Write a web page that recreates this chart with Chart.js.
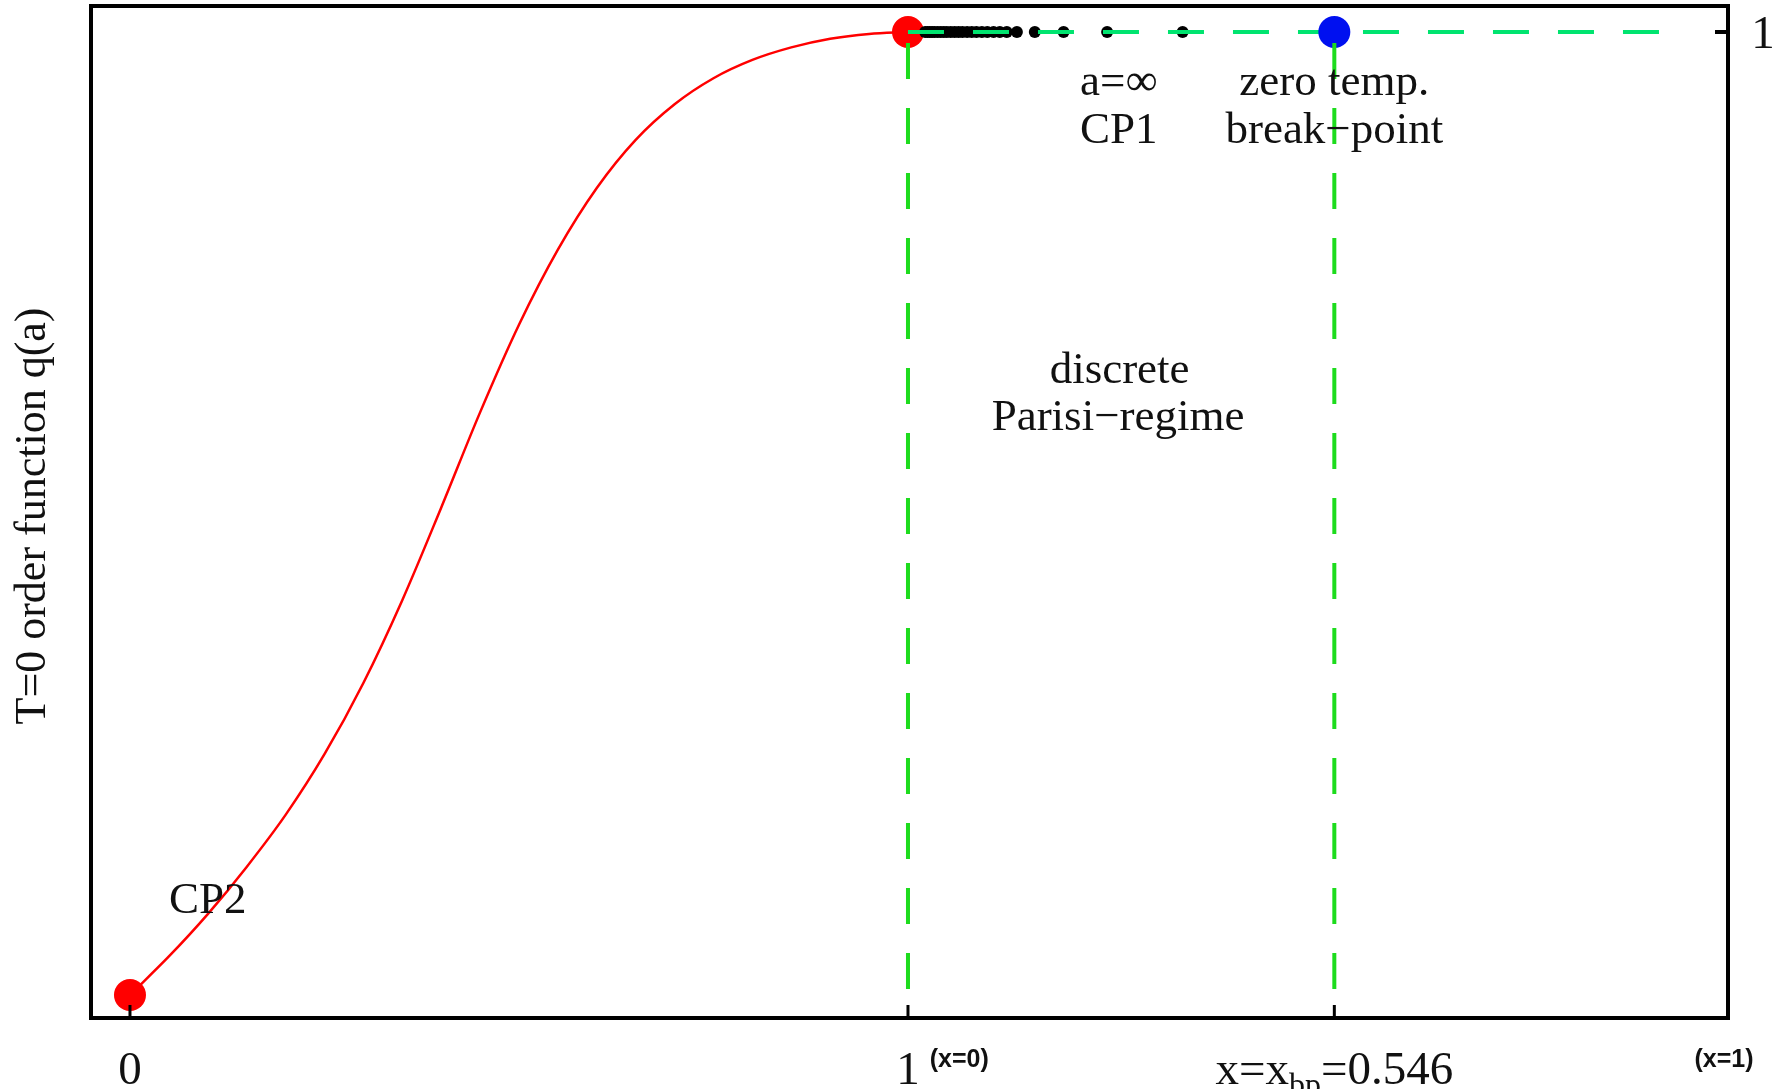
<!DOCTYPE html>
<html>
<head>
<meta charset="utf-8">
<script src="https://cdn.jsdelivr.net/npm/chart.js@4/dist/chart.umd.min.js"></script>
<style>
    body { margin: 0; background: #fff; }
    canvas { display: block; }
</style>
</head>
<body>
<canvas id="myChart" width="1782" height="1089"></canvas>
<script>
// order function q(a)
const curveA = [0, 0.05, 0.1, 0.15, 0.2, 0.25, 0.3, 0.35, 0.4, 0.45, 0.5, 0.55, 0.6, 0.65, 0.7, 0.75, 0.8, 0.85, 0.9, 0.95, 1];
const curveQ = [0, 0.040, 0.084, 0.133, 0.187, 0.250, 0.324, 0.410, 0.506, 0.605, 0.696, 0.774, 0.838, 0.888, 0.925, 0.952, 0.971, 0.984, 0.993, 0.998, 1];

// critical points CP2 (a=0) and CP1 (a=1)
const critA = [0, 1];
const critQ = [0, 1];

// discrete Parisi steps, all at q=1
const parisiA = [1.022, 1.025, 1.028, 1.031, 1.034, 1.038, 1.042, 1.046, 1.050, 1.055, 1.060, 1.065, 1.070, 1.076, 1.082, 1.088, 1.095, 1.102, 1.110, 1.118, 1.127, 1.140, 1.163, 1.200, 1.256, 1.353];

// zero temperature break-point
const xBp = 0.546;
const bpA = 1.548;
const plateauEndA = 1.972;

// axis ticks
const xTicks = [0, 1, bpA];
const xTickLabels = ['0', '1', 'x=x_bp=' + xBp];
const xTickNotes = ['', '(x=0)', ''];
const xEndNote = '(x=1)';
const yTicks = [1];
const yTickLabels = ['1'];
const yTitle = 'T=0 order function q(a)';

const notes = [
    { text: 'a=\u221e', a: 1.271, q: 0.935 },
    { text: 'CP1', a: 1.271, q: 0.885 },
    { text: 'zero temp.', a: bpA, q: 0.935 },
    { text: 'break\u2212point', a: bpA, q: 0.885 },
    { text: 'discrete', a: 1.272, q: 0.6355 },
    { text: 'Parisi\u2212regime', a: 1.270, q: 0.5867 },
    { text: 'CP2', a: 0.100, q: 0.0852 }
];

const serif = '"Liberation Serif", "DejaVu Serif", serif';
const sans = '"Liberation Sans", Arial, sans-serif';

function pts(xs, ys) {
    return xs.map((x, i) => ({ x: x, y: Array.isArray(ys) ? ys[i] : ys }));
}

const decorPlugin = {
    id: 'decor',
    afterDraw(chart) {
        const ctx = chart.ctx;
        const area = chart.chartArea;
        const xs = chart.scales.x;
        const ys = chart.scales.y;
        ctx.save();

        // frame
        ctx.strokeStyle = '#000';
        ctx.lineWidth = 4;
        ctx.strokeRect(area.left, area.top, area.right - area.left, area.bottom - area.top);

        // inward ticks
        ctx.lineWidth = 3;
        xTicks.forEach(v => {
            const px = xs.getPixelForValue(v);
            ctx.beginPath();
            ctx.moveTo(px, area.bottom);
            ctx.lineTo(px, area.bottom - 13);
            ctx.stroke();
        });
        ctx.lineWidth = 4;
        yTicks.forEach(v => {
            const py = ys.getPixelForValue(v);
            ctx.beginPath();
            ctx.moveTo(area.right, py);
            ctx.lineTo(area.right - 13, py);
            ctx.stroke();
        });

        ctx.fillStyle = '#111';
        ctx.textBaseline = 'alphabetic';

        // x tick labels, "_xx" becomes a subscript
        const base = area.bottom + 66;
        xTicks.forEach((v, i) => {
            const px = xs.getPixelForValue(v);
            const parts = xTickLabels[i].split(/_(\w+)/);
            let total = 0;
            parts.forEach((p, j) => {
                ctx.font = (j % 2 ? '32px ' : '47px ') + serif;
                total += ctx.measureText(p).width;
            });
            let cx = px - total / 2;
            ctx.textAlign = 'left';
            parts.forEach((p, j) => {
                ctx.font = (j % 2 ? '32px ' : '47px ') + serif;
                ctx.fillText(p, cx, j % 2 ? base + 11 : base);
                cx += ctx.measureText(p).width;
            });
            if (xTickNotes[i]) {
                ctx.font = 'bold 25px ' + sans;
                ctx.fillText(xTickNotes[i], cx + 10, area.bottom + 49);
            }
        });
        ctx.font = 'bold 25px ' + sans;
        ctx.textAlign = 'center';
        ctx.fillText(xEndNote, area.right - 4, area.bottom + 49);

        // y tick labels on the right
        ctx.font = '47px ' + serif;
        yTicks.forEach((v, i) => {
            ctx.fillText(yTickLabels[i], area.right + 35, ys.getPixelForValue(v) + 16);
        });

        // annotations
        ctx.font = '45px ' + serif;
        notes.forEach(n => {
            ctx.fillText(n.text, xs.getPixelForValue(n.a), ys.getPixelForValue(n.q));
        });

        // y title
        ctx.translate(45, (area.top + area.bottom) / 2 + 4);
        ctx.rotate(-Math.PI / 2);
        ctx.font = '44px ' + serif;
        ctx.fillText(yTitle, 0, 0);
        ctx.restore();
    }
};

const ctx = document.getElementById('myChart').getContext('2d');
let chart = new Chart(ctx, {
    type: 'scatter',
    data: {
        datasets: [{
            // vertical line at CP1
            data: pts([1, 1], [1, 0]),
            showLine: true,
            borderColor: '#1ddc1d',
            borderWidth: 4,
            borderDash: [36, 29],
            borderDashOffset: 54,
            pointRadius: 0
        }, {
            // vertical line at the break-point
            data: pts([bpA, bpA], [1, 0]),
            showLine: true,
            borderColor: '#1ddc1d',
            borderWidth: 4,
            borderDash: [36, 29],
            borderDashOffset: 54,
            pointRadius: 0
        }, {
            data: pts([bpA], [1]),
            backgroundColor: '#0010f0',
            borderWidth: 0,
            pointRadius: 16
        }, {
            // q = 1 plateau
            data: pts([1, plateauEndA], 1),
            showLine: true,
            borderColor: '#00e46f',
            borderWidth: 4,
            borderDash: [36, 29],
            pointRadius: 0
        }, {
            data: pts(parisiA, 1),
            backgroundColor: '#000',
            borderWidth: 0,
            pointRadius: 6
        }, {
            data: pts(critA, critQ),
            backgroundColor: '#ff0000',
            borderWidth: 0,
            pointRadius: 16
        }, {
            data: pts(curveA, curveQ),
            showLine: true,
            borderColor: '#ff0000',
            borderWidth: 2.5,
            cubicInterpolationMode: 'monotone',
            pointRadius: 0
        }]
    },
    options: {
        responsive: false,
        animation: false,
        clip: false,
        layout: { autoPadding: false, padding: { left: 91, right: 54, top: 6, bottom: 71 } },
        plugins: { legend: { display: false }, tooltip: { enabled: false } },
        scales: {
            x: { type: 'linear', min: -0.0501, max: 2.054, display: false },
            y: { type: 'linear', min: -0.0239, max: 1.027, display: false }
        }
    },
    plugins: [decorPlugin]
});
</script>
</body>
</html>
